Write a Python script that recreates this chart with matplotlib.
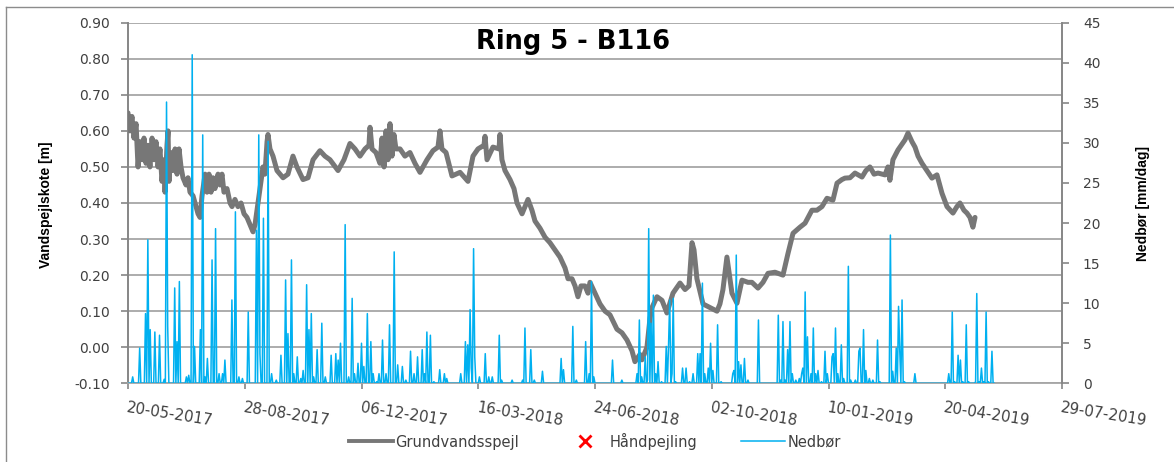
import matplotlib
matplotlib.use('Agg')
import matplotlib.pyplot as plt
import matplotlib.dates as mdates
from matplotlib.lines import Line2D
import numpy as np
from datetime import datetime, timedelta

# ---------------- data ----------------
start_date = datetime(2017, 5, 20)

# groundwater level (days since 20-05-2017, level in m)
gw_day = [0, 1.7, 3.4, 5.1, 6.9, 8.6, 10.3, 12.0, 13.7, 15.4, 17.1, 18.8, 20.6, 22.3, 24.0, 25.7,
          27.4, 29.1, 30.8, 31.7, 33.4, 34.3, 35.1, 36.8, 38.5, 40.3, 42.0, 43.7, 45.4, 47.1, 49.7,
          51.4, 53.1, 55.7, 57.4, 60.0, 61.7, 63.4, 66.0, 67.7, 69.4, 71.1, 72.8, 74.5, 77.1, 78.8,
          80.5, 82.2, 84.8, 87.4, 89.1, 91.6, 94.2, 96.8, 99.4, 101.9, 104.5, 107.1, 108.8, 110.5,
          113.1, 115.6, 117.3, 119.1, 119.9, 121.6, 124.2, 127.6, 132.8, 137.0, 141.3, 144.7, 149.9,
          154.2, 158.5, 164.4, 168.7, 173.0, 179.9, 185.0, 190.1, 194.4, 198.7, 203.0, 206.4, 207.3,
          209.0, 212.4, 215.8, 217.6, 219.3, 221.0, 222.7, 224.4, 226.1, 227.8, 229.5, 233.0, 237.2,
          241.5, 245.8, 250.1, 256.1, 261.2, 265.5, 267.2, 268.9, 272.4, 277.5, 284.4, 291.2, 295.5,
          299.8, 304.9, 305.8, 307.5, 312.6, 317.8, 318.6, 320.3, 322.9, 327.2, 330.6, 333.2, 337.5,
          342.6, 346.0, 348.6, 352.9, 357.2, 361.4, 365.7, 370.0, 374.3, 376.9, 380.3, 382.9, 385.4,
          388.0, 391.4, 394.0, 395.7, 400.0, 404.3, 408.6, 412.8, 418.8, 423.1, 427.4, 431.7, 434.2,
          438.5, 440.2, 444.5, 447.1, 448.8, 453.1, 457.4, 461.6, 466.8, 472.8, 477.1, 480.5, 483.1,
          484.8, 487.3, 492.5, 498.5, 504.5, 507.0, 509.6, 513.0, 515.6, 517.3, 521.6, 525.9, 531.0,
          534.4, 539.6, 543.9, 548.2, 554.2, 561.0, 565.3, 569.6, 575.6, 579.9, 585.8, 590.1, 594.4,
          598.7, 603.8, 607.3, 611.5, 614.1, 618.4, 622.7, 628.7, 632.1, 635.5, 639.0, 642.4, 648.4,
          650.9, 652.6, 655.2, 659.5, 665.5, 668.1, 671.5, 674.1, 676.7, 680.1, 684.3, 688.6, 692.9,
          697.2, 701.5, 706.6, 710.0, 712.6, 716.0, 718.6, 721.2, 723.7, 725.5]
gw_level = [0.65, 0.60, 0.64, 0.58, 0.62, 0.50, 0.57, 0.52, 0.58, 0.51, 0.56, 0.50, 0.58, 0.52, 0.57, 0.50,
            0.55, 0.46, 0.52, 0.43, 0.56, 0.60, 0.46, 0.54, 0.49, 0.55, 0.48, 0.55, 0.50, 0.47, 0.45,
            0.47, 0.43, 0.42, 0.40, 0.37, 0.36, 0.42, 0.48, 0.43, 0.48, 0.43, 0.47, 0.44, 0.48, 0.45,
            0.48, 0.43, 0.44, 0.40, 0.39, 0.41, 0.39, 0.40, 0.37, 0.36, 0.34, 0.32, 0.34, 0.38,
            0.44, 0.50, 0.48, 0.57, 0.59, 0.55, 0.53, 0.49, 0.47, 0.48, 0.53, 0.50, 0.465,
            0.47, 0.52, 0.545, 0.53, 0.52, 0.49, 0.52, 0.565, 0.55, 0.53, 0.55, 0.56, 0.61,
            0.55, 0.54, 0.51, 0.58, 0.50, 0.60, 0.52, 0.62, 0.53, 0.59, 0.55, 0.55, 0.53,
            0.54, 0.51, 0.485, 0.52, 0.545, 0.555, 0.60, 0.55, 0.54, 0.475, 0.485, 0.46, 0.53,
            0.55, 0.56, 0.585, 0.52, 0.555, 0.55, 0.59, 0.52, 0.49, 0.465, 0.44, 0.40, 0.37,
            0.41, 0.38, 0.35, 0.33, 0.305, 0.29, 0.27, 0.25, 0.22, 0.19, 0.19, 0.17, 0.14,
            0.17, 0.17, 0.15, 0.18, 0.15, 0.12, 0.10, 0.09, 0.05, 0.04, 0.02, -0.01, -0.04,
            -0.02, -0.035, 0.00, 0.08, 0.11, 0.14, 0.13, 0.095, 0.15, 0.178, 0.16, 0.17, 0.29,
            0.27, 0.19, 0.12, 0.11, 0.10, 0.12, 0.16, 0.25, 0.19, 0.15, 0.122, 0.186, 0.18,
            0.18, 0.164, 0.18, 0.205, 0.208, 0.20, 0.26, 0.316, 0.333, 0.344, 0.38, 0.38, 0.39,
            0.413, 0.408, 0.455, 0.465, 0.469, 0.47, 0.483, 0.472, 0.49, 0.50, 0.48, 0.483, 0.478,
            0.50, 0.463, 0.52, 0.547, 0.575, 0.594, 0.57, 0.555, 0.53, 0.51, 0.49, 0.469, 0.478,
            0.427, 0.39, 0.372, 0.39, 0.40, 0.38, 0.372, 0.36, 0.333, 0.36]

# daily precipitation: days with rain (days since 20-05-2017, mm/day); other days 0
rain_day = [4, 10, 15, 17, 19, 23, 27, 31, 33, 34, 40, 42, 44, 50, 52, 55, 57, 62, 64, 66, 68, 72, 75,
            78, 81, 83, 89, 92, 95, 98, 103, 110, 112, 113, 116, 120, 123, 127, 131, 135, 137, 140,
            142, 145, 148, 150, 153, 155, 157, 159, 162, 166, 169, 174, 178, 180, 182, 186, 189, 192,
            194, 197, 200, 202, 205, 208, 210, 213, 215, 218, 221, 224, 228, 231, 235, 238, 242, 245,
            248, 252, 254, 256, 259, 262, 267, 271, 273, 285, 289, 291, 293, 294, 296, 297, 301, 306,
            309, 312, 318, 320, 329, 338, 340, 345, 348, 355, 371, 373, 381, 384, 392, 395, 397, 399,
            415, 423, 436, 438, 440, 443, 445, 446, 448, 450, 452, 454, 457, 461, 463, 464, 466, 467,
            469, 475, 478, 481, 484, 488, 490, 492, 494, 497, 499, 501, 505, 508, 518, 519, 521, 523,
            525, 528, 531, 540, 557, 559, 561, 563, 565, 567, 569, 572, 575, 577, 578, 580, 582, 585,
            587, 589, 591, 594, 597, 599, 603, 604, 606, 608, 611, 613, 617, 619, 623, 626, 627, 630,
            632, 635, 638, 642, 644, 653, 655, 658, 660, 661, 663, 665, 674, 703, 706, 708, 711, 713,
            715, 718, 720, 726, 727, 729, 731, 733, 735, 737, 740]
rain_mm = [0.8, 4.4, 8.7, 17.9, 6.7, 6.4, 6.0, 0.5, 35.1, 7.1, 11.9, 5.2, 12.7, 0.8, 1.0, 41.0, 4.6, 6.7,
           31.0, 0.8, 3.1, 15.4, 19.3, 1.2, 1.2, 2.9, 10.4, 21.4, 0.8, 0.6, 8.9, 19.1, 31.0, 3.7, 20.6,
           30.2, 1.2, 0.4, 3.5, 12.9, 6.2, 15.4, 1.2, 3.3, 0.6, 1.6, 12.3, 6.7, 8.7, 0.8, 4.2, 7.5,
           0.8, 3.5, 3.7, 2.9, 5.0, 19.8, 0.8, 10.6, 1.2, 2.5, 5.0, 2.1, 8.7, 5.2, 1.2, 0.2, 1.2,
           5.4, 1.2, 7.3, 16.4, 2.3, 2.1, 0.4, 4.0, 1.2, 3.3, 4.2, 1.2, 6.4, 6.0, 0.2, 1.7, 1.2, 0.6,
           1.2, 5.2, 4.8, 9.2, 1.9, 16.8, 3.3, 0.8, 3.7, 0.8, 0.8, 6.0, 0.4, 0.4, 0.4, 6.9, 4.2, 0.4,
           1.5, 3.1, 1.7, 7.1, 0.4, 5.2, 1.2, 12.7, 0.8, 2.9, 0.4, 1.2, 7.9, 0.8, 3.3, 0.4, 19.3,
           7.5, 11.0, 1.2, 2.7, 0.2, 4.6, 4.8, 10.4, 1.2, 10.6, 0.2, 1.9, 1.9, 0.2, 1.2, 3.7, 3.7,
           12.5, 1.2, 1.9, 5.0, 1.6, 7.3, 0.2, 1.2, 1.6, 16.0, 2.7, 2.3, 3.1, 0.4, 7.9, 8.5, 0.4,
           7.7, 0.4, 4.2, 7.7, 1.2, 0.4, 0.6, 1.2, 1.9, 11.4, 5.8, 1.2, 6.9, 1.2, 1.6, 0.2, 4.0, 1.2,
           3.3, 3.7, 6.9, 1.2, 4.8, 0.6, 14.6, 0.4, 0.4, 4.0, 4.4, 6.7, 1.6, 0.6, 0.4, 5.4, 0.2,
           18.5, 1.5, 4.4, 9.6, 4.2, 10.4, 0.2, 1.2, 1.2, 8.9, 0.2, 3.5, 2.9, 0.2, 7.3, 0.2, 0.2,
           11.2, 0.2, 1.9, 0.2, 8.9, 0.2, 4.0]
rain_last_day = 742

xtick_labels = ['20-05-2017', '28-08-2017', '06-12-2017', '16-03-2018', '24-06-2018',
                '02-10-2018', '10-01-2019', '20-04-2019', '29-07-2019']
left_ticks = [-0.10, 0.00, 0.10, 0.20, 0.30, 0.40, 0.50, 0.60, 0.70, 0.80, 0.90]
right_ticks = [0, 5, 10, 15, 20, 25, 30, 35, 40, 45]

title = 'Ring 5 - B116'
ylabel_left = 'Vandspejlskote [m]'
ylabel_right = 'Nedbør [mm/dag]'
legend_labels = ['Grundvandsspejl', 'Håndpejling', 'Nedbør']

# ---------------- build series ----------------
gw_dates = [start_date + timedelta(days=d) for d in gw_day]
rain_all_days = np.arange(0, rain_last_day + 1)
rain_values = np.zeros(len(rain_all_days))
for d, v in zip(rain_day, rain_mm):
    rain_values[d] = v
rain_dates = [start_date + timedelta(days=int(d)) for d in rain_all_days]
tick_dates = [datetime.strptime(s, '%d-%m-%Y') for s in xtick_labels]

# ---------------- figure ----------------
W, H = 1174, 462
fig = plt.figure(figsize=(W / 100, H / 100), dpi=100)
fig.patch.set_facecolor('white')

# outer frame (left and top edges visible)
frame_col = '#8c8c8c'
fig.add_artist(Line2D([6 / W, 6 / W], [0, 1 - 7 / H], color=frame_col, lw=1.0, transform=fig.transFigure))
fig.add_artist(Line2D([6 / W, 1], [1 - 7 / H, 1 - 7 / H], color=frame_col, lw=1.0, transform=fig.transFigure))

ax_l, ax_r = 128 / W, 1062 / W
ax_b, ax_t = 1 - 383.3 / H, 1 - 22.7 / H
ax = fig.add_axes([ax_l, ax_b, ax_r - ax_l, ax_t - ax_b])

grid_col = '#a6a6a6'
spine_col = '#868686'
text_col = '#404040'
gw_col = '#777777'

ax.plot(gw_dates, gw_level, color=gw_col, lw=3.6, solid_joinstyle='round', solid_capstyle='round', zorder=3)
ax.set_ylim(-0.10, 0.90)
ax.set_yticks(left_ticks)
ax.set_yticklabels([f'{t:.2f}' for t in left_ticks])
ax.yaxis.grid(True, color=grid_col, lw=1.3)
ax.set_axisbelow(True)

ax.set_xlim(tick_dates[0], tick_dates[-1])
ax.set_xticks(tick_dates)
ax.set_xticklabels(xtick_labels, rotation=-9, ha='left', va='top', rotation_mode='anchor')

ax.spines['top'].set_visible(False)
ax.spines['left'].set_color(spine_col)
ax.spines['left'].set_linewidth(1.4)
ax.spines['right'].set_visible(False)
ax.spines['bottom'].set_color(grid_col)
ax.spines['bottom'].set_linewidth(1.3)

ax.tick_params(axis='y', direction='out', length=5, width=1.2, color=spine_col, pad=8,
               labelsize=10, labelcolor=text_col)
ax.tick_params(axis='x', direction='out', length=4, width=1.2, color=spine_col, pad=8,
               labelsize=10.8, labelcolor=text_col)

ax2 = ax.twinx()
ax2.plot(rain_dates, rain_values, color='#00B0F0', lw=1.1, zorder=4)
ax2.set_ylim(0, 45)
ax2.set_yticks(right_ticks)
ax2.set_yticklabels([str(t) for t in right_ticks])
ax2.set_xlim(tick_dates[0], tick_dates[-1])
for s in ['top', 'left', 'bottom']:
    ax2.spines[s].set_visible(False)
ax2.spines['right'].set_color(spine_col)
ax2.spines['right'].set_linewidth(1.4)
ax2.tick_params(axis='y', direction='out', length=5, width=1.2, color=spine_col, pad=10,
                labelsize=10, labelcolor=text_col)

# title
ax.text(0.4765, 0.946, title, transform=ax.transAxes, ha='center', va='center',
        fontsize=18.5, fontweight='bold', color='black', family='DejaVu Sans')

# axis labels
label_fam = ['Liberation Sans Narrow', 'Liberation Sans', 'DejaVu Sans']
fig.text(46 / W, 1 - 205 / H, ylabel_left, rotation=90, ha='center', va='center',
         fontsize=10, fontweight='bold', family=label_fam, color='black')
fig.text(1143 / W, 1 - 204 / H, ylabel_right, rotation=90, ha='center', va='center',
         fontsize=10, fontweight='bold', family=label_fam, color='black')

# legend
handles = [Line2D([], [], color=gw_col, lw=2.8),
           Line2D([], [], color='red', marker='x', ls='none', markersize=8, mew=2),
           Line2D([], [], color='#00B0F0', lw=1.1)]
leg = fig.legend(handles, legend_labels, loc='center', bbox_to_anchor=(595 / W, 1 - 441 / H), ncol=3,
                 frameon=False, fontsize=10.5, handlelength=3.0, handletextpad=0.2, columnspacing=3.0)
for t in leg.get_texts():
    t.set_color(text_col)

fig.savefig('out.png', dpi=100)
